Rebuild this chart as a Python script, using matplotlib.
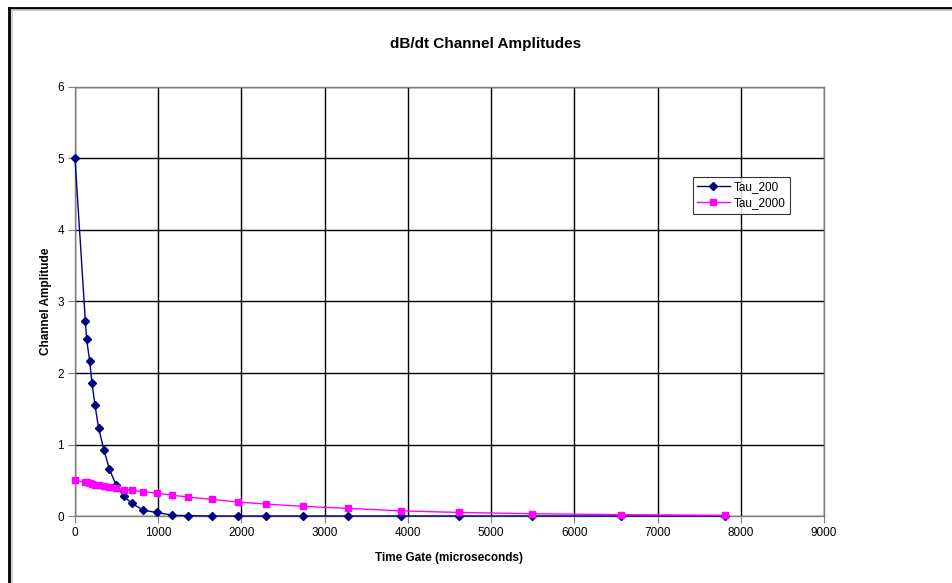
import numpy as np
import matplotlib.pyplot as plt
from matplotlib.lines import Line2D

plt.rcParams["font.family"] = ["Liberation Sans", "DejaVu Sans"]

# time gates (microseconds)
time_gates = [0, 124, 140, 176, 204, 240, 284, 348, 412, 491, 583, 679, 823,
              983, 1171, 1362, 1642, 1962, 2301, 2745, 3276, 3914, 4613,
              5493, 6562, 7813]
tau_200 = [5.0, 2.73, 2.47, 2.17, 1.86, 1.55, 1.23, 0.92, 0.66, 0.44, 0.28,
           0.18, 0.08, 0.05, 0.01, 0.005, 0.0, 0.0, 0.0, 0.0, 0.0, 0.0, 0.0,
           0.0, 0.0, 0.0]
tau_2000 = [0.50, 0.47, 0.47, 0.46, 0.45, 0.44, 0.43, 0.42, 0.41, 0.39, 0.37,
            0.36, 0.34, 0.32, 0.29, 0.265, 0.233, 0.195, 0.167, 0.135, 0.107,
            0.072, 0.05, 0.032, 0.019, 0.01]
x_ticks = np.arange(0, 9001, 1000)
y_ticks = np.arange(0, 7, 1)

fig = plt.figure(figsize=(9.53, 5.83), dpi=100)
ax = fig.add_axes([0.0787, 0.1149, 0.7859, 0.7359])

ax.plot(time_gates, tau_200, color="#000080", marker="D", markersize=4.2,
        linewidth=1, label="Tau_200", clip_on=False, zorder=3)
ax.plot(time_gates, tau_2000, color="#FF00FF", marker="s", markersize=4.8,
        linewidth=1, label="Tau_2000", clip_on=False, zorder=3)

ax.set_xlim(0, 9000)
ax.set_ylim(0, 6)
ax.set_xticks(x_ticks)
ax.set_yticks(y_ticks)
ax.grid(True, color="black", linewidth=1)
ax.set_axisbelow(True)
for side in ["left", "bottom", "top", "right"]:
    ax.spines[side].set_color("#808080")
    ax.spines[side].set_linewidth(1)
ax.tick_params(axis="both", direction="out", length=5, color="#808080",
               labelsize=8.5, pad=3)

ax.set_xlabel("Time Gate (microseconds)", fontsize=8.5, fontweight="bold",
              labelpad=9)
ax.set_ylabel("Channel Amplitude", fontsize=8.5, fontweight="bold",
              labelpad=4)
fig.text(0.509, 0.924, "dB/dt Channel Amplitudes", ha="center", va="center",
         fontsize=11, fontweight="bold")

leg = fig.legend(loc="upper left", bbox_to_anchor=(0.727, 0.697),
                 fontsize=8.5, frameon=True, fancybox=False,
                 edgecolor="black", borderpad=0.35, handlelength=2.8,
                 labelspacing=0.4, borderaxespad=0, handletextpad=0.3)
leg.get_frame().set_linewidth(0.8)

# outer chart border (left and top edges)
fig.add_artist(Line2D([0.0094, 0.0094], [0, 0.986], color="black",
                      linewidth=2, transform=fig.transFigure))
fig.add_artist(Line2D([0.0094, 1.0], [0.986, 0.986], color="black",
                      linewidth=2, transform=fig.transFigure))
fig.add_artist(Line2D([0.0125, 0.0125], [0, 0.982], color="#c8c8c8",
                      linewidth=1.2, transform=fig.transFigure))
fig.add_artist(Line2D([0.0125, 1.0], [0.982, 0.982], color="#c8c8c8",
                      linewidth=1.2, transform=fig.transFigure))

fig.savefig("out.png", dpi=100)
